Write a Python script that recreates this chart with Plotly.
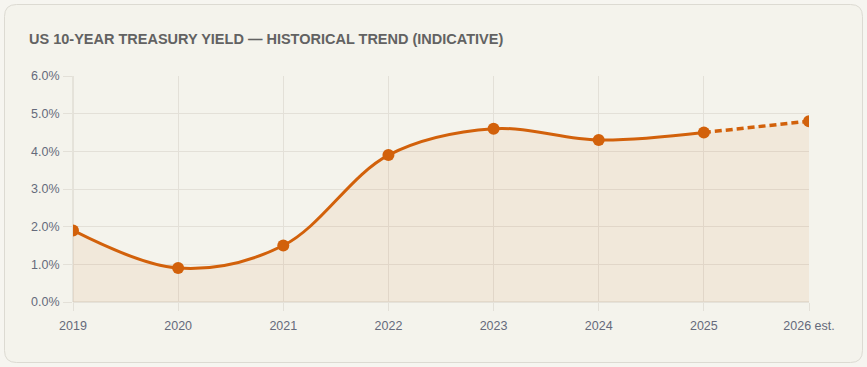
import plotly.graph_objects as go

years = ["2019", "2020", "2021", "2022", "2023", "2024", "2025", "2026 est."]
yields = [1.9, 0.9, 1.5, 3.9, 4.6, 4.3, 4.5, 4.8]
y_ticks = [0, 1, 2, 3, 4, 5, 6]
y_tick_labels = ["0.0%", "1.0%", "2.0%", "3.0%", "4.0%", "5.0%", "6.0%"]
title_text = "US 10-YEAR TREASURY YIELD — HISTORICAL TREND (INDICATIVE)"

ORANGE = "#d2610b"
W, H = 867, 367
L, R, T, B = 73, 58, 76, 65

fig = go.Figure()
fig.add_trace(go.Scatter(x=years, y=yields, mode="none", fill="tozeroy",
                         fillcolor="rgba(210,120,40,0.085)",
                         line=dict(shape="spline", smoothing=1.0),
                         hoverinfo="skip", showlegend=False))
fig.add_trace(go.Scatter(x=years[:7], y=yields[:7], mode="lines",
                         line=dict(color=ORANGE, width=3, shape="spline", smoothing=1.0),
                         showlegend=False))
fig.add_trace(go.Scatter(x=years[6:], y=yields[6:], mode="lines",
                         line=dict(color=ORANGE, width=3.5, dash="7px,4px"),
                         showlegend=False))
fig.add_trace(go.Scatter(x=years, y=yields, mode="markers",
                         marker=dict(color=ORANGE, size=12, line=dict(width=0)),
                         showlegend=False))

pw = W - L - R
ph = H - T - B
def px_x(p):
    return (p - L) / pw
def px_y(p):
    return 1 - (p - T) / ph

cx0, cx1, cy0, cy1, rad = 4.5, 862.5, 4.5, 362.5, 12
def P(x, y):
    return f"{px_x(x):.5f},{px_y(y):.5f}"
path = (f"M {P(cx0+rad, cy0)} L {P(cx1-rad, cy0)} Q {P(cx1, cy0)} {P(cx1, cy0+rad)} "
        f"L {P(cx1, cy1-rad)} Q {P(cx1, cy1)} {P(cx1-rad, cy1)} "
        f"L {P(cx0+rad, cy1)} Q {P(cx0, cy1)} {P(cx0, cy1-rad)} "
        f"L {P(cx0, cy0+rad)} Q {P(cx0, cy0)} {P(cx0+rad, cy0)} Z")
fig.add_shape(type="path", xref="paper", yref="paper", path=path,
              fillcolor="#f4f3ec", line=dict(color="#dcdad2", width=1), layer="below")

fig.add_annotation(text="<b>" + title_text + "</b>", xref="paper", yref="paper",
                   x=px_x(27), y=px_y(38.5), xanchor="left", yanchor="middle",
                   showarrow=False,
                   font=dict(family="Liberation Sans, Arial, sans-serif", size=14.5, color="#626262"))

fig.update_layout(
    width=W, height=H,
    margin=dict(l=L, r=R, t=T, b=B),
    paper_bgcolor="#f6f5f0",
    plot_bgcolor="rgba(0,0,0,0)",
    font=dict(family="Liberation Sans, Arial, sans-serif", size=12.5, color="#656a7b"),
    xaxis=dict(type="category", range=[0, 7], showgrid=True, gridcolor="#e3e0d8",
               gridwidth=1, ticks="outside", ticklen=8, tickcolor="#e3e0d8",
               showline=False, zeroline=False, fixedrange=True, ticklabelstandoff=4),
    yaxis=dict(range=[0, 6], tickvals=y_ticks, ticktext=y_tick_labels,
               showgrid=True, gridcolor="#e3e0d8", gridwidth=1,
               ticks="outside", ticklen=9, tickcolor="#e3e0d8",
               showline=False, zeroline=False, fixedrange=True, ticklabelstandoff=1),
    hovermode=False,
)
fig.add_shape(type="line", xref="paper", yref="paper", x0=0, x1=0, y0=0, y1=1,
              line=dict(color="#d6d2c8", width=1), layer="below")
fig.add_shape(type="line", xref="paper", yref="paper", x0=0, x1=1, y0=0, y1=0,
              line=dict(color="#d6d2c8", width=1), layer="below")

fig.write_html("out.html", config={"displayModeBar": False},
               post_script="document.body.style.margin='0';document.body.style.overflow='hidden';")
